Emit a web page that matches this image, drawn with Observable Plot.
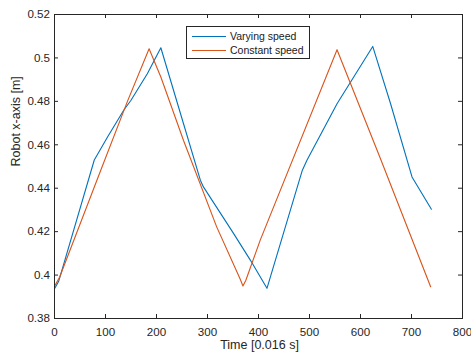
<!DOCTYPE html>
<html><head><meta charset="utf-8">
<script src="https://cdn.jsdelivr.net/npm/d3@7"></script>
<script src="https://cdn.jsdelivr.net/npm/@observablehq/plot@0.6"></script>
<style>
body{margin:0;background:#fff;}
#wrap{position:relative;width:471px;height:356px;font-family:"Liberation Sans",Arial,sans-serif;}
#legend{position:absolute;left:186px;top:26px;width:124px;height:33px;border:1px solid #262626;background:#fff;box-sizing:border-box;}
.sw{position:absolute;left:5px;width:34px;height:0;border-top:1px solid;}
.lt{position:absolute;left:43px;height:14px;line-height:14px;font-size:10.5px;color:#1a1a1a;white-space:nowrap;}
</style></head>
<body>
<div id="wrap"></div>
<script>
const seriesNames = ["Varying speed", "Constant speed"];
const seriesColors = ["#0072BD", "#D95319"];
const xTicks = [0, 100, 200, 300, 400, 500, 600, 700, 800];
const yTicks = [0.38, 0.40, 0.42, 0.44, 0.46, 0.48, 0.50, 0.52];
const xLabel = "Time [0.016 s]";
const yLabel = "Robot x-axis [m]";

const varyingT = [0, 8, 78, 104, 136, 150, 182, 208.5, 253, 286, 292, 351, 384, 416.6, 486, 495, 554, 624, 659, 701, 739];
const varyingX = [0.3937, 0.397, 0.453, 0.4636, 0.476, 0.4805, 0.4927, 0.5047, 0.4697, 0.4437, 0.4406, 0.4192, 0.4069, 0.3939, 0.4483, 0.4529, 0.4789, 0.5053, 0.4789, 0.4452, 0.4303];

const constantT = [0, 10, 90.7, 143, 185.5, 208.5, 253, 318, 364, 369.5, 375, 403.4, 554, 639, 737.5];
const constantX = [0.3948, 0.399, 0.4483, 0.48, 0.5042, 0.4912, 0.462, 0.4222, 0.3982, 0.395, 0.3975, 0.4161, 0.5038, 0.4537, 0.3946];

const rows = [
  ...varyingT.map((t, i) => ({t, v: varyingX[i], s: seriesNames[0]})),
  ...constantT.map((t, i) => ({t, v: constantX[i], s: seriesNames[1]}))
];

const W = 471, H = 356, mL = 54, mR = 9, mT = 14, mB = 38;
const pw = W - mL - mR, ph = H - mT - mB, tk = 4;
const ink = "#262626";

const chart = Plot.plot({
  width: W, height: H,
  marginLeft: mL, marginRight: mR, marginTop: mT, marginBottom: mB,
  style: {fontFamily: "Liberation Sans, Arial, sans-serif", color: ink, background: "#fff", overflow: "visible"},
  x: {domain: [0, 800]},
  y: {domain: [0.38, 0.52]},
  color: {domain: seriesNames, range: seriesColors},
  marks: [
    Plot.line(rows, {x: "t", y: "v", z: "s", stroke: "s", strokeWidth: 1.1}),
    Plot.frame({stroke: ink, strokeWidth: 1}),
    Plot.tickX(xTicks, {x: d => d, insetTop: ph - tk, stroke: ink}),
    Plot.tickX(xTicks, {x: d => d, insetBottom: ph - tk, stroke: ink}),
    Plot.tickY(yTicks, {y: d => d, insetRight: pw - tk, stroke: ink}),
    Plot.tickY(yTicks, {y: d => d, insetLeft: pw - tk, stroke: ink}),
    Plot.axisX(xTicks, {tickSize: 0, tickPadding: 9, fontSize: 11.6, label: null}),
    Plot.axisY(yTicks, {tickSize: 0, tickPadding: 4.5, fontSize: 11.6, label: null, tickFormat: d => String(+d.toFixed(2))}),
    Plot.text([xLabel], {text: d => d, frameAnchor: "bottom", dx: 1, dy: 30, fontSize: 12.5, fill: ink}),
    Plot.text([yLabel], {text: d => d, frameAnchor: "left", dx: -38.5, rotate: -90, fontSize: 12.5, fill: ink})
  ]
});

const wrap = document.getElementById("wrap");
wrap.appendChild(chart);

const legend = document.createElement("div");
legend.id = "legend";
seriesNames.forEach((name, i) => {
  const cy = 9 + i * 14;
  const sw = document.createElement("div");
  sw.className = "sw";
  sw.style.top = (cy - 0.5) + "px";
  sw.style.borderTopColor = seriesColors[i];
  legend.appendChild(sw);
  const lt = document.createElement("div");
  lt.className = "lt";
  lt.style.top = (cy - 7) + "px";
  lt.textContent = name;
  legend.appendChild(lt);
});
wrap.appendChild(legend);
</script>
</body></html>
